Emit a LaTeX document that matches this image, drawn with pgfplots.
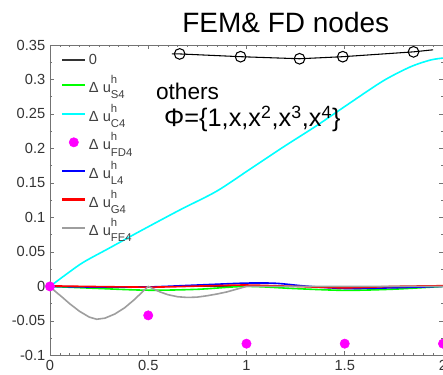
\documentclass[border=0pt]{standalone}
\usepackage{pgfplots}
\pgfplotsset{compat=1.18}
\usepackage{fontspec}
\setmainfont{Liberation Sans}
\newcommand{\du}[1]{Δ u\rlap{\raisebox{0.62em}{\fontsize{8.5}{9}\selectfont h}}\raisebox{-0.42em}{\fontsize{8.5}{9}\selectfont #1}}
\definecolor{axgray}{gray}{0.45}
\definecolor{fegray}{gray}{0.62}
\definecolor{lcyan}{RGB}{0,255,255}
\definecolor{lmag}{RGB}{255,0,255}
\definecolor{lgreen}{RGB}{0,255,0}
\definecolor{lblue}{RGB}{0,0,255}
\definecolor{lred}{RGB}{255,0,0}
\begin{document}
\begin{tikzpicture}
\begin{axis}[
  scale only axis, width=295pt, height=233pt,
  at={(0,0)}, anchor=south west,
  xmin=0, xmax=2, ymin=-0.1, ymax=0.35,
  xtick={0,0.5,1,1.5,2},
  ytick={-0.1,-0.05,0,0.05,0.1,0.15,0.2,0.25,0.3,0.35},
  minor x tick num=9, minor y tick num=1,
  /pgf/number format/assume math mode=true,
  /pgf/number format/fixed,
  /pgf/number format/precision=2,
  tick label style={font=\fontsize{11}{12}\selectfont, text=black!80},
  axis line style={axgray},
  every tick/.style={axgray},
  major tick length=3pt, minor tick length=1.6pt,
  tick align=inside,
  clip=false,
  legend cell align=left,
  legend style={at={(0.025,0.985)}, anchor=north west, draw=none, fill=none,
    font=\fontsize{11}{12}\selectfont, text=black!75, row sep=3pt,
    inner sep=1pt},
]
\addlegendimage{color=black!80, line width=1.6pt}
\addlegendentry{0}
\addlegendimage{color=lgreen, line width=1.6pt}
\addlegendentry{\du{S4}}
\addlegendimage{color=lcyan, line width=1.6pt}
\addlegendentry{\du{C4}}
\addlegendimage{only marks, mark=*, mark size=3.5pt, color=lmag, mark options={draw=lmag, fill=lmag}}
\addlegendentry{\du{FD4}}
\addlegendimage{color=lblue, line width=1.6pt}
\addlegendentry{\du{L4}}
\addlegendimage{color=lred, line width=1.6pt}
\addlegendentry{\du{G4}}
\addlegendimage{color=fegray, line width=1.6pt}
\addlegendentry{\du{FE4}}

\addplot[forget plot, color=black!80, line width=1.2pt] coordinates {(0,0) (2,0)};
\addplot[forget plot, color=lgreen, line width=1.2pt, smooth] coordinates {
(0,0) (0.25,-0.003) (0.5,-0.0055) (0.75,-0.0042) (1,0) (1.25,-0.0032) (1.5,-0.0057) (1.75,-0.004) (2,0)};
\addplot[forget plot, color=lcyan, line width=1.2pt, smooth] coordinates {
(0,0) (0.085,0.018) (0.17,0.035) (0.305,0.056) (0.458,0.080) (0.662,0.111) (0.848,0.138) (1.018,0.170) (1.187,0.202) (1.357,0.233) (1.527,0.266) (1.696,0.298) (1.832,0.318) (1.934,0.328) (2,0.331)};
\addplot[forget plot, only marks, mark=*, mark size=3.5pt, color=lmag, mark options={draw=lmag, fill=lmag}] coordinates {
(0,0) (0.5,-0.042) (1,-0.083) (1.5,-0.083) (2,-0.083)};
\addplot[forget plot, color=lblue, line width=1.2pt, smooth] coordinates {
(0,0) (0.25,-0.001) (0.5,-0.0008) (0.75,0.002) (1,0.0048) (1.15,0.0045) (1.3,0.0005) (1.5,-0.003) (1.75,-0.002) (2,0)};
\addplot[forget plot, color=lred, line width=1.2pt, smooth] coordinates {
(0,0.0008) (0.5,-0.001) (0.8,0.0008) (1,0.002) (1.25,0) (1.5,-0.002) (1.75,0) (2,0.001)};
\addplot[forget plot, color=fegray, line width=1.2pt] coordinates {
(0,0) (0.03,-0.008) (0.06,-0.015) (0.1,-0.025) (0.15,-0.036) (0.2,-0.0445) (0.238,-0.0476) (0.28,-0.046) (0.33,-0.040) (0.38,-0.031) (0.43,-0.019) (0.47,-0.008) (0.5,0)
(0.53,-0.004) (0.56,-0.008) (0.6,-0.012) (0.65,-0.015) (0.7,-0.016) (0.75,-0.0155) (0.8,-0.0135) (0.85,-0.011) (0.9,-0.008) (0.95,-0.004) (1,0) (2,0)};
% handwritten annotations
\addplot[forget plot, color=black, line width=0.8pt] coordinates {
(0.62,0.337) (0.66,0.337) (0.97,0.333) (1.27,0.330) (1.49,0.333) (1.85,0.340) (1.95,0.343)};
\addplot[forget plot, color=black, line width=0.8pt, only marks, mark=o, mark size=4pt] coordinates {
(0.66,0.337) (0.97,0.333) (1.27,0.330) (1.49,0.333) (1.85,0.340)};
\node[font=\fontsize{21}{22}\selectfont] at (axis cs:1.2,0.382) {FEM\& FD nodes};
\node[font=\fontsize{17}{18}\selectfont] at (axis cs:0.70,0.282) {others};
\node[font=\fontsize{19}{20}\selectfont] at (axis cs:1.03,0.243) {Φ=\{1,x,x\textsuperscript{2},x\textsuperscript{3},x\textsuperscript{4}\}};
\end{axis}
\pgfresetboundingbox
\path[use as bounding box] (-37.5pt,-14.25pt) rectangle (295pt,266.75pt);
\end{tikzpicture}
\end{document}
